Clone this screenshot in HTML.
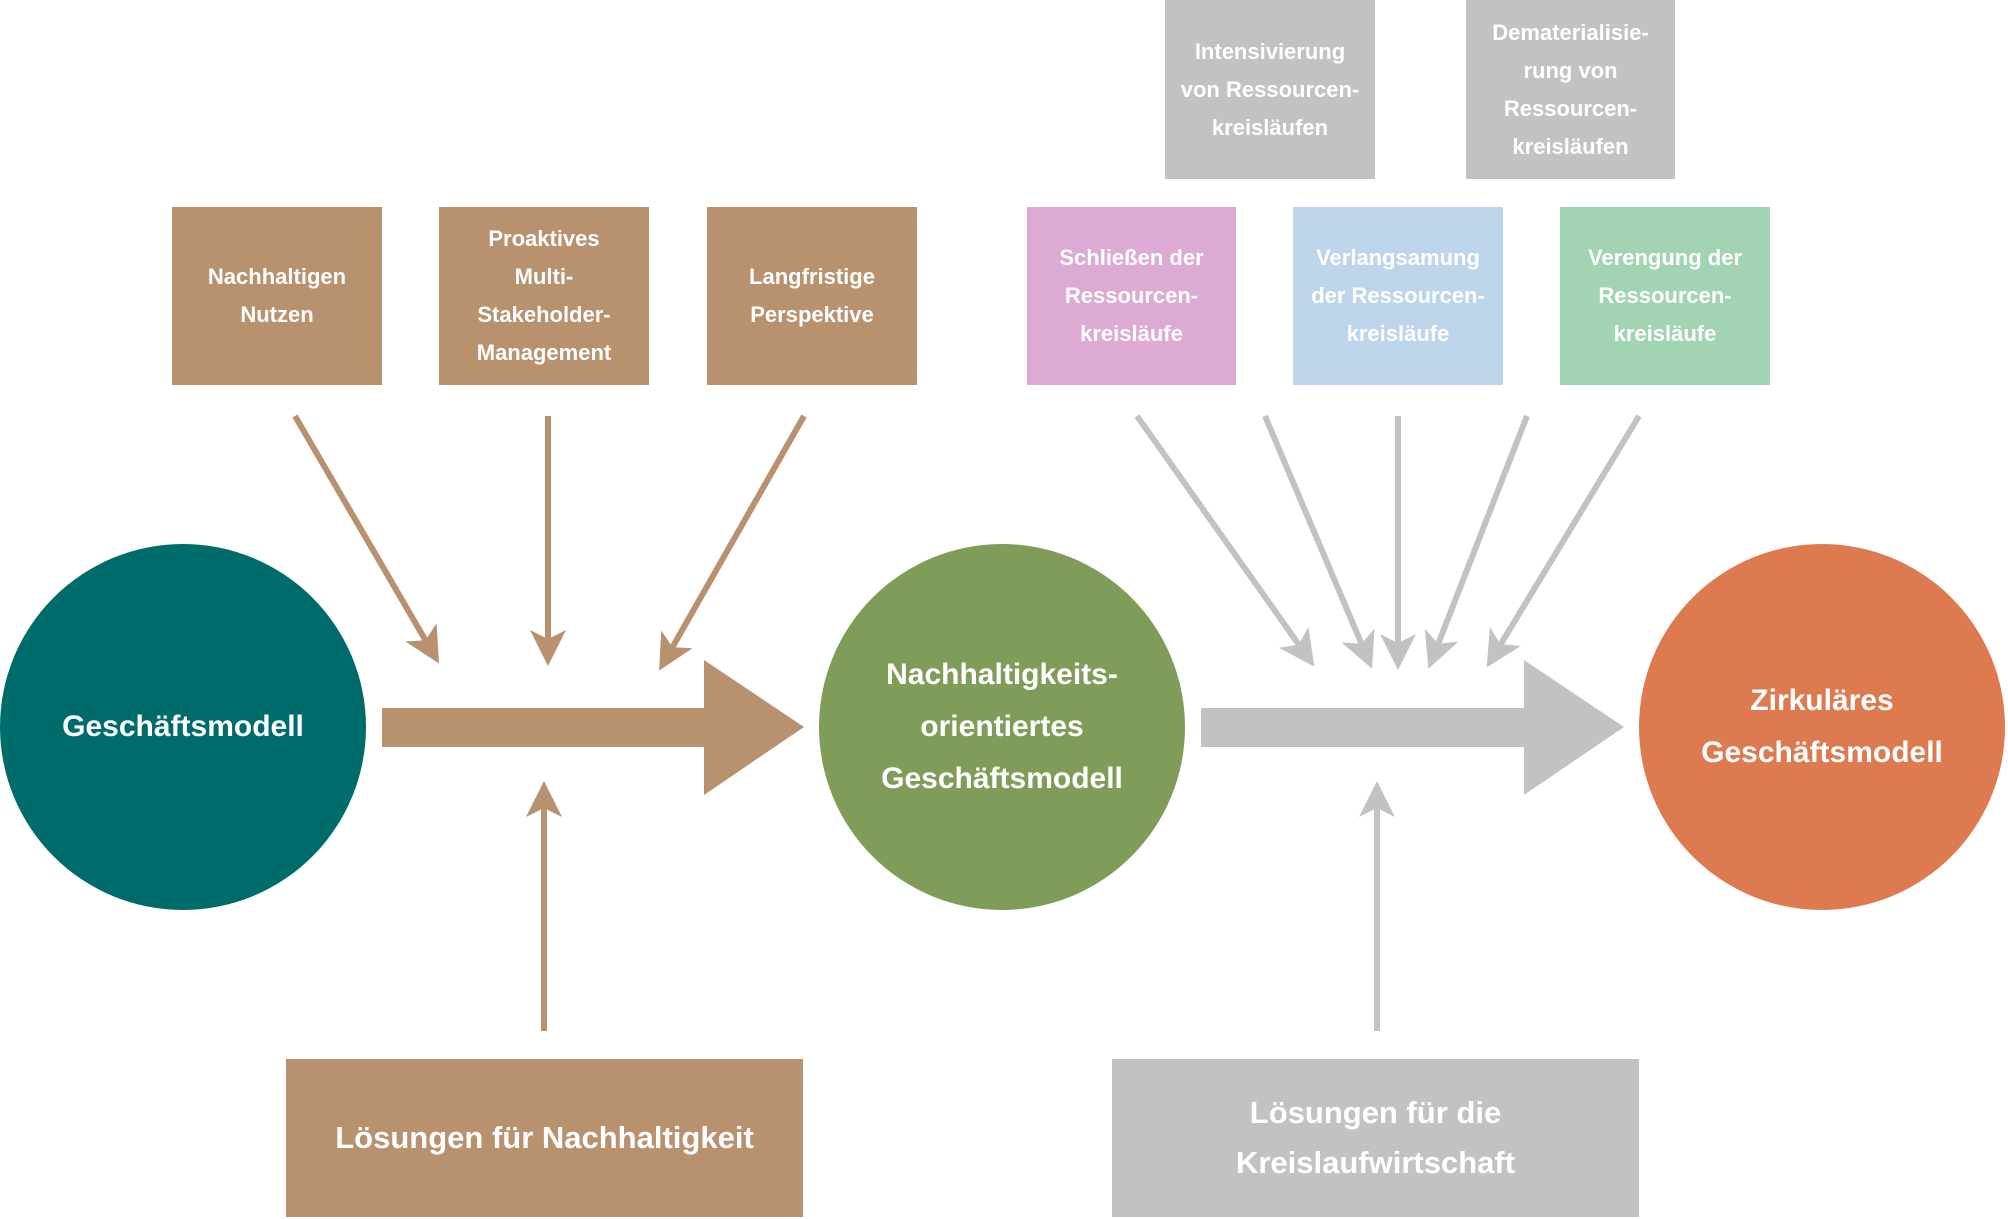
<!DOCTYPE html>
<html><head><meta charset="utf-8"><style>
body{margin:0;width:2008px;height:1219px;background:#fff;position:relative;overflow:hidden;font-family:"Liberation Sans",sans-serif;font-weight:bold;color:#fff}
.b{position:absolute;display:flex;align-items:center;justify-content:center;text-align:center;font-size:22px;line-height:38px}
.c{position:absolute;border-radius:50%;display:flex;align-items:center;justify-content:center;text-align:center;font-size:30px;line-height:52px}
</style></head><body>
<svg width="2008" height="1219" style="position:absolute;left:0;top:0">
<defs>
<marker id="mb" markerWidth="6" markerHeight="6" refX="3" refY="3" orient="auto" markerUnits="strokeWidth"><path d="M0,0 L6,3 L0,6 L1.5,3 z" fill="#b8916e"/></marker>
<marker id="mg" markerWidth="6" markerHeight="6" refX="3" refY="3" orient="auto" markerUnits="strokeWidth"><path d="M0,0 L6,3 L0,6 L1.5,3 z" fill="#c0c3c2"/></marker>
</defs>
<polygon points="382,708 704,708 704,660 804,727 704,795 704,747 382,747" fill="#b8916e"/>
<polygon points="1201,708 1524,708 1524,660 1624,727 1524,795 1524,747 1201,747" fill="#c0c3c2"/>
<g stroke="#b8916e" stroke-width="6" marker-end="url(#mb)">
<line x1="295" y1="416" x2="430" y2="648"/>
<line x1="548" y1="416" x2="548" y2="648"/>
<line x1="804" y1="416" x2="668" y2="655"/>
<line x1="544" y1="1031" x2="544" y2="799"/>
</g>
<g stroke="#c0c3c2" stroke-width="6" marker-end="url(#mg)">
<line x1="1137" y1="416" x2="1304" y2="652"/>
<line x1="1265" y1="416" x2="1365" y2="652"/>
<line x1="1398" y1="416" x2="1398" y2="652"/>
<line x1="1527" y1="416" x2="1435" y2="652"/>
<line x1="1639" y1="416" x2="1496" y2="652"/>
<line x1="1377" y1="1031" x2="1377" y2="799"/>
</g>
</svg>
<div class="b" style="left:172px;top:207px;width:210px;height:178px;background:#b8916e">Nachhaltigen<br>Nutzen</div>
<div class="b" style="left:439px;top:207px;width:210px;height:178px;background:#b8916e">Proaktives<br>Multi-<br>Stakeholder-<br>Management</div>
<div class="b" style="left:707px;top:207px;width:210px;height:178px;background:#b8916e">Langfristige<br>Perspektive</div>
<div class="b" style="left:1165px;top:0;width:210px;height:179px;background:#c0c3c2">Intensivierung<br>von Ressourcen-<br>kreisläufen</div>
<div class="b" style="left:1466px;top:0;width:209px;height:179px;background:#c0c3c2">Dematerialisie-<br>rung von<br>Ressourcen-<br>kreisläufen</div>
<div class="b" style="left:1027px;top:207px;width:209px;height:178px;background:#dcaad2">Schließen der<br>Ressourcen-<br>kreisläufe</div>
<div class="b" style="left:1293px;top:207px;width:210px;height:178px;background:#bcd5ea">Verlangsamung<br>der Ressourcen-<br>kreisläufe</div>
<div class="b" style="left:1560px;top:207px;width:210px;height:178px;background:#a2d4b4">Verengung der<br>Ressourcen-<br>kreisläufe</div>
<div class="c" style="left:0;top:544px;width:366px;height:366px;background:#006b6b">Geschäftsmodell</div>
<div class="c" style="left:819px;top:544px;width:366px;height:366px;background:#7f9d59">Nachhaltigkeits-<br>orientiertes<br>Geschäftsmodell</div>
<div class="c" style="left:1639px;top:544px;width:366px;height:366px;background:#dd7a50">Zirkuläres<br>Geschäftsmodell</div>
<div class="b" style="left:286px;top:1059px;width:517px;height:158px;background:#b8916e;font-size:31px;line-height:50px">Lösungen für Nachhaltigkeit</div>
<div class="b" style="left:1112px;top:1059px;width:527px;height:158px;background:#c0c3c2;font-size:31px;line-height:50px">Lösungen für die<br>Kreislaufwirtschaft</div>
</body></html>
